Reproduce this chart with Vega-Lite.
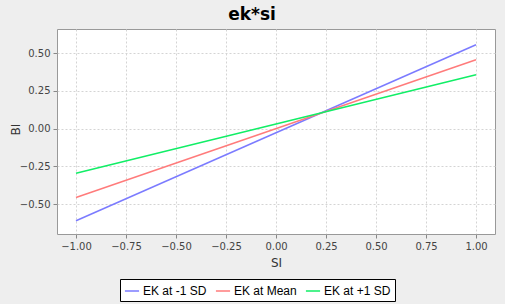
{
  "$schema": "https://vega.github.io/schema/vega-lite/v6.json",
  "autosize": {"type": "none"},
  "width": 438,
  "height": 205,
  "padding": {"left": 57, "top": 29, "right": 10, "bottom": 70},
  "background": "#eeeeee",
  "title": {"text": "ek*si", "fontSize": 17, "font": "DejaVu Sans", "fontWeight": "bold", "color": "#000000", "offset": 5, "dx": -24},
  "data": {"values": [
    {"SI": -1, "BI": -0.609, "series": "EK at -1 SD"},
    {"SI": 1, "BI": 0.555, "series": "EK at -1 SD"},
    {"SI": -1, "BI": -0.456, "series": "EK at Mean"},
    {"SI": 1, "BI": 0.456, "series": "EK at Mean"},
    {"SI": -1, "BI": -0.295, "series": "EK at +1 SD"},
    {"SI": 1, "BI": 0.356, "series": "EK at +1 SD"}
  ]},
  "mark": {"type": "line", "strokeWidth": 1.5},
  "encoding": {
    "x": {"field": "SI", "type": "quantitative", "scale": {"domain": [-1.095, 1.095], "nice": false, "zero": false},
      "axis": {"values": [-1, -0.75, -0.5, -0.25, 0, 0.25, 0.5, 0.75, 1], "format": ".2f", "title": "SI"}},
    "y": {"field": "BI", "type": "quantitative", "scale": {"domain": [-0.697, 0.659], "nice": false, "zero": false},
      "axis": {"values": [-0.5, -0.25, 0, 0.25, 0.5], "format": ".2f", "title": "BI", "titleX": -42, "titleY": 100, "titleAlign": "center", "titleBaseline": "middle"}},
    "color": {"field": "series", "type": "nominal",
      "scale": {"domain": ["EK at -1 SD", "EK at Mean", "EK at +1 SD"], "range": ["#7b7bff", "#ff7b7b", "#11ee66"]},
      "legend": {"title": null, "orient": "none", "direction": "horizontal", "legendX": 63, "legendY": 250,
        "symbolType": "stroke", "symbolSize": 200, "symbolStrokeWidth": 1.5, "labelFontSize": 12, "labelFont": "Liberation Sans", "labelColor": "#000000",
        "strokeColor": "#000000", "fillColor": "#ffffff", "padding": 4, "columnPadding": 5, "labelOffset": 3}}
  },
  "config": {
    "view": {"fill": "#ffffff", "stroke": "#999999", "strokeWidth": 1},
    "axis": {
      "labelFont": "DejaVu Sans", "labelFontSize": 10, "labelColor": "#444444",
      "titleFont": "DejaVu Sans", "titleFontSize": 12, "titleFontWeight": "normal", "titleColor": "#333333",
      "grid": true, "gridColor": "#d4d4d4", "gridDash": [2, 2], "gridWidth": 1,
      "domain": false, "tickColor": "#888888", "tickSize": 4, "labelPadding": 3
    },
    "axisX": {"titlePadding": 6}
  }
}
